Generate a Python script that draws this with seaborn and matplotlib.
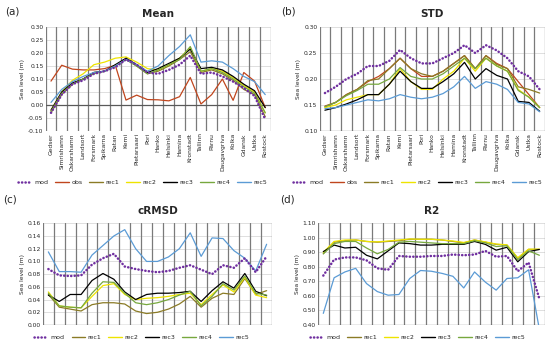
import numpy as np
import pandas as pd
import matplotlib
matplotlib.use("Agg")
import matplotlib.pyplot as plt
from matplotlib.lines import Line2D
import seaborn as sns

stations = ["Gedser", "Simrishamn", "Oskarshamn", "Landsort", "Forsmark", "Spikarna",
            "Ratan", "Kemi", "Pietarsaari", "Pori", "Hanko", "Helsinki", "Hamina",
            "Kronstadt", "Tallinn", "Pärnu", "Daugavgriva", "Kolka", "Gdansk", "Ustka",
            "Rostock"]

# (a) Mean
mean_mod = [-0.03, 0.04, 0.08, 0.095, 0.12, 0.13, 0.145, 0.175, 0.155, 0.125, 0.12,
            0.135, 0.155, 0.19, 0.12, 0.125, 0.11, 0.09, 0.065, 0.035, -0.055]
mean_obs = [0.092, 0.153, 0.138, 0.135, 0.135, 0.14, 0.153, 0.019, 0.038, 0.021, 0.02,
            0.016, 0.032, 0.106, 0.004, 0.04, 0.10, 0.018, 0.125, 0.092, -0.01]
mean_rec1 = [-0.03, 0.04, 0.08, 0.10, 0.125, 0.13, 0.15, 0.175, 0.15, 0.12, 0.13,
             0.15, 0.175, 0.205, 0.125, 0.135, 0.12, 0.095, 0.06, 0.04, -0.045]
mean_rec2 = [-0.02, 0.05, 0.095, 0.12, 0.155, 0.165, 0.18, 0.185, 0.165, 0.14, 0.135,
             0.155, 0.18, 0.22, 0.13, 0.14, 0.13, 0.105, 0.075, 0.05, -0.03]
mean_rec3 = [-0.02, 0.05, 0.085, 0.10, 0.125, 0.13, 0.155, 0.18, 0.155, 0.125, 0.14,
             0.16, 0.18, 0.215, 0.14, 0.145, 0.135, 0.11, 0.08, 0.055, -0.01]
mean_rec4 = [-0.025, 0.045, 0.08, 0.10, 0.12, 0.13, 0.15, 0.175, 0.15, 0.12, 0.135,
             0.155, 0.175, 0.225, 0.13, 0.14, 0.125, 0.10, 0.07, 0.045, -0.03]
mean_rec5 = [0.01, 0.06, 0.09, 0.11, 0.125, 0.13, 0.15, 0.175, 0.155, 0.13, 0.15,
             0.19, 0.225, 0.27, 0.165, 0.17, 0.165, 0.14, 0.11, 0.09, 0.04]

# (b) STD
std_mod = [0.173, 0.185, 0.20, 0.21, 0.225, 0.225, 0.235, 0.256, 0.24, 0.23, 0.23,
           0.24, 0.25, 0.265, 0.25, 0.265, 0.255, 0.24, 0.215, 0.205, 0.18]
std_obs = [0.148, 0.155, 0.17, 0.18, 0.195, 0.205, 0.22, 0.24, 0.22, 0.205, 0.205,
           0.215, 0.23, 0.245, 0.22, 0.245, 0.23, 0.22, 0.195, 0.17, 0.145]
std_rec1 = [0.146, 0.155, 0.17, 0.18, 0.197, 0.20, 0.22, 0.24, 0.22, 0.21, 0.205,
            0.215, 0.23, 0.245, 0.22, 0.245, 0.228, 0.22, 0.185, 0.18, 0.173]
std_rec2 = [0.145, 0.15, 0.16, 0.165, 0.17, 0.17, 0.19, 0.22, 0.195, 0.18, 0.18,
            0.20, 0.215, 0.24, 0.215, 0.24, 0.225, 0.215, 0.18, 0.165, 0.145]
std_rec3 = [0.14, 0.145, 0.152, 0.16, 0.17, 0.17, 0.19, 0.215, 0.195, 0.182, 0.182,
            0.195, 0.21, 0.232, 0.20, 0.22, 0.207, 0.20, 0.157, 0.155, 0.138]
std_rec4 = [0.147, 0.155, 0.168, 0.178, 0.19, 0.19, 0.20, 0.222, 0.205, 0.20, 0.20,
            0.21, 0.225, 0.24, 0.22, 0.24, 0.225, 0.215, 0.178, 0.165, 0.145]
std_rec5 = [0.143, 0.145, 0.15, 0.155, 0.16, 0.158, 0.162, 0.17, 0.165, 0.162, 0.165,
            0.172, 0.185, 0.205, 0.182, 0.195, 0.19, 0.18, 0.155, 0.152, 0.137]

# (c) cRMSD
crmsd_mod = [0.088, 0.078, 0.077, 0.078, 0.095, 0.105, 0.112, 0.092, 0.088, 0.085, 0.083,
             0.085, 0.09, 0.094, 0.087, 0.08, 0.094, 0.09, 0.105, 0.083, 0.108]
crmsd_rec1 = [0.048, 0.028, 0.025, 0.022, 0.032, 0.035, 0.035, 0.033, 0.022, 0.018, 0.02,
              0.025, 0.033, 0.045, 0.028, 0.042, 0.05, 0.048, 0.073, 0.048, 0.054]
crmsd_rec2 = [0.052, 0.03, 0.028, 0.027, 0.045, 0.062, 0.065, 0.048, 0.04, 0.042, 0.043,
              0.045, 0.048, 0.05, 0.032, 0.048, 0.063, 0.052, 0.075, 0.047, 0.043]
crmsd_rec3 = [0.047, 0.037, 0.048, 0.048, 0.07, 0.081, 0.072, 0.052, 0.04, 0.048, 0.05,
              0.05, 0.051, 0.053, 0.037, 0.054, 0.068, 0.058, 0.081, 0.053, 0.046]
crmsd_rec4 = [0.05, 0.03, 0.028, 0.027, 0.05, 0.068, 0.067, 0.05, 0.035, 0.032, 0.035,
              0.04, 0.047, 0.053, 0.03, 0.045, 0.065, 0.055, 0.077, 0.05, 0.047]
crmsd_rec5 = [0.115, 0.084, 0.084, 0.083, 0.11, 0.125, 0.14, 0.15, 0.12, 0.10, 0.10,
              0.107, 0.12, 0.145, 0.108, 0.137, 0.136, 0.117, 0.105, 0.085, 0.127]

# (d) R2
r2_mod = [0.74, 0.85, 0.865, 0.865, 0.845, 0.79, 0.78, 0.875, 0.87, 0.87, 0.875,
          0.875, 0.885, 0.88, 0.885, 0.91, 0.87, 0.875, 0.77, 0.83, 0.58]
r2_rec1 = [0.89, 0.97, 0.98, 0.985, 0.975, 0.97, 0.975, 0.98, 0.99, 0.99, 0.99,
           0.985, 0.975, 0.965, 0.985, 0.97, 0.955, 0.95, 0.86, 0.92, 0.92]
r2_rec2 = [0.90, 0.975, 0.985, 0.985, 0.975, 0.972, 0.978, 0.985, 0.992, 0.99, 0.99,
           0.985, 0.978, 0.968, 0.985, 0.972, 0.957, 0.952, 0.862, 0.922, 0.922]
r2_rec3 = [0.905, 0.95, 0.93, 0.935, 0.88, 0.855, 0.91, 0.965, 0.96, 0.95, 0.95,
           0.955, 0.955, 0.955, 0.975, 0.955, 0.915, 0.935, 0.835, 0.905, 0.92]
r2_rec4 = [0.89, 0.96, 0.975, 0.975, 0.93, 0.89, 0.92, 0.97, 0.975, 0.97, 0.965,
           0.96, 0.96, 0.96, 0.98, 0.965, 0.94, 0.945, 0.85, 0.91, 0.88]
r2_rec5 = [0.48, 0.725, 0.765, 0.79, 0.685, 0.63, 0.605, 0.61, 0.72, 0.775, 0.77,
           0.755, 0.735, 0.655, 0.765, 0.695, 0.64, 0.72, 0.725, 0.78, 0.37]

colors = {"mod": "#7030A0", "obs": "#C0461E", "rec1": "#8B7B26", "rec2": "#EEE400",
          "rec3": "#000000", "rec4": "#77A83E", "rec5": "#5B9BD5"}

panels = [
    ("(a)", "Mean", {"mod": mean_mod, "obs": mean_obs, "rec1": mean_rec1, "rec2": mean_rec2,
                     "rec3": mean_rec3, "rec4": mean_rec4, "rec5": mean_rec5},
     (-0.10, 0.30), np.arange(-0.10, 0.301, 0.05),
     [0.083, 0.6246, 0.409, 0.298], True, (0.010, 0.966), (0.259, 0.478)),
    ("(b)", "STD", {"mod": std_mod, "obs": std_obs, "rec1": std_rec1, "rec2": std_rec2,
                    "rec3": std_rec3, "rec4": std_rec4, "rec5": std_rec5},
     (0.10, 0.30), np.arange(0.10, 0.301, 0.05),
     [0.581, 0.6246, 0.410, 0.298], True, (0.512, 0.966), (0.759, 0.478)),
    ("(c)", "cRMSD", {"mod": crmsd_mod, "rec1": crmsd_rec1, "rec2": crmsd_rec2,
                      "rec3": crmsd_rec3, "rec4": crmsd_rec4, "rec5": crmsd_rec5},
     (0.0, 0.16), np.arange(0.0, 0.161, 0.02),
     [0.078, 0.0688, 0.4167, 0.2914], False, (0.006, 0.427), (0.258, 0.034)),
    ("(d)", "R2", {"mod": r2_mod, "rec1": r2_rec1, "rec2": r2_rec2, "rec3": r2_rec3,
                   "rec4": r2_rec4, "rec5": r2_rec5},
     (0.40, 1.10), np.arange(0.40, 1.101, 0.10),
     [0.578, 0.0688, 0.4125, 0.2914], False, (0.510, 0.427), (0.759, 0.034)),
]

sns.set_theme(style="white")
plt.rcParams["font.family"] = ["DejaVu Sans"]

fig = plt.figure(figsize=(5.5, 3.49), dpi=100)
x = np.arange(len(stations))

for tag, title, series, ylim, yticks, pos, show_x, tagpos, legpos in panels:
    ax = fig.add_axes(pos)
    rows = []
    for name, vals in series.items():
        for i, v in enumerate(vals):
            rows.append({"x": i, "val": v, "series": name})
    df = pd.DataFrame(rows)
    names = list(series.keys())
    dashes = {n: ((0.1, 1.3) if n == "mod" else "") for n in names}
    sns.lineplot(data=df, x="x", y="val", hue="series", style="series",
                 hue_order=names, style_order=names, dashes=dashes,
                 palette=colors, ax=ax, legend=False, estimator=None, sort=False)
    for line, n in zip(ax.get_lines(), names):
        if n == "mod":
            line.set_linewidth(1.8)
            line.set_dash_capstyle("round")
            line.set_zorder(5)
        else:
            line.set_linewidth(0.9)
    ax.set_xlim(-0.5, len(stations) - 0.5)
    ax.set_ylim(*ylim)
    ax.set_yticks(yticks)
    ax.set_yticklabels(["{:.2f}".format(t) for t in yticks], fontsize=4.3)
    for t in yticks:
        ax.axhline(t, color="#d9d9d9", lw=0.6, zorder=0)
    for b in np.arange(-0.5, len(stations), 1.0):
        ax.axvline(b, color="#7a7a7a", lw=0.9, zorder=0.5)
    base = 0.0 if ylim[0] < 0 else ylim[0]
    ax.axhline(base, color="#595959", lw=0.9, zorder=1)
    for s in ax.spines.values():
        s.set_visible(False)
    ax.tick_params(axis="both", length=0, pad=1.5)
    ax.set_xlabel("")
    ax.set_ylabel("Sea level (m)", fontsize=4.3, labelpad=2)
    ax.set_xticks(x)
    if show_x:
        ax.set_xticklabels(stations, rotation=90, fontsize=4.3)
    else:
        ax.set_xticklabels([])
    ax.set_title(title, fontsize=7.5, fontweight="bold", pad=7)
    fig.text(tagpos[0], tagpos[1], tag, fontsize=7.5, va="center", ha="left")

    handles = []
    for n in names:
        if n == "mod":
            handles.append(Line2D([], [], color=colors[n], lw=1.8, dashes=(0.1, 1.3),
                                  dash_capstyle="round"))
        else:
            handles.append(Line2D([], [], color=colors[n], lw=1.0))
    fig.legend(handles, names, loc="center", ncol=len(names), frameon=False,
               fontsize=4.5, handlelength=2.2, columnspacing=1.1, handletextpad=0.4,
               bbox_to_anchor=legpos)

fig.savefig("out.png", dpi=100)
